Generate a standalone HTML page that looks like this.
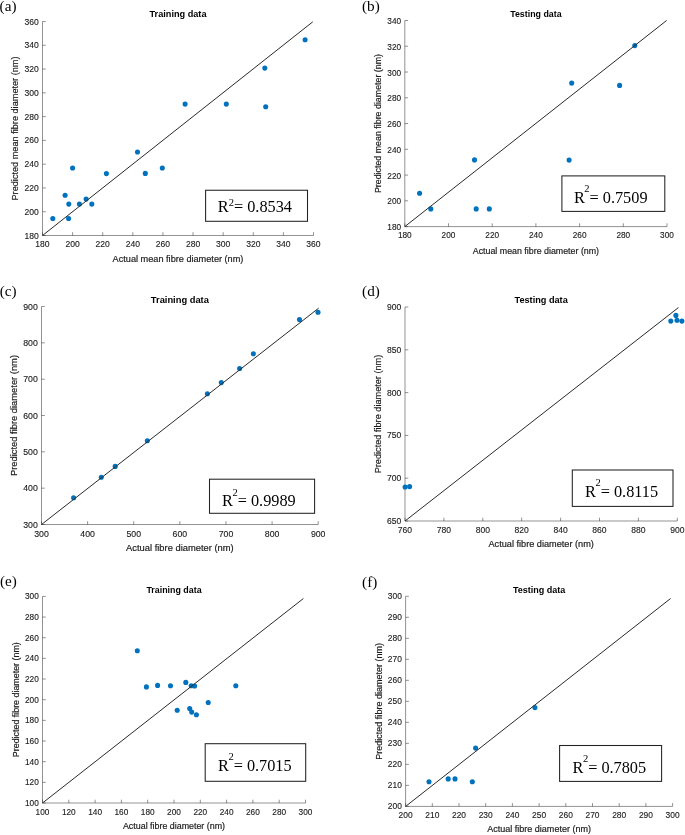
<!DOCTYPE html>
<html><head><meta charset="utf-8"><style>
html,body{margin:0;padding:0;background:#fff;}
svg{display:block;will-change:transform;}
text{font-family:"Liberation Sans",sans-serif;fill:#262626;}
.tk text{fill:#1a1a1a;stroke:#1a1a1a;stroke-width:0.12px;}
.lb{fill:#1a1a1a;stroke:#1a1a1a;stroke-width:0.18px;}
.ti{font-weight:bold;fill:#000;}
.pl{font-family:"Liberation Serif",serif;font-size:15.2px;fill:#000;}
.r2{font-family:"Liberation Serif",serif;font-size:16.3px;fill:#000;}
</style></head><body>
<svg width="685" height="835" viewBox="0 0 685 835">
<rect width="685" height="835" fill="#fff"/>
<g><path d="M42.5 21.5V235.5H313.5" fill="none" stroke="#262626" stroke-width="0.5"/>
<path d="M42.50 235.5v-3.3 M72.61 235.5v-3.3 M102.72 235.5v-3.3 M132.83 235.5v-3.3 M162.94 235.5v-3.3 M193.06 235.5v-3.3 M223.17 235.5v-3.3 M253.28 235.5v-3.3 M283.39 235.5v-3.3 M313.50 235.5v-3.3 M42.5 235.50h3.3 M42.5 211.72h3.3 M42.5 187.94h3.3 M42.5 164.17h3.3 M42.5 140.39h3.3 M42.5 116.61h3.3 M42.5 92.83h3.3 M42.5 69.06h3.3 M42.5 45.28h3.3 M42.5 21.50h3.3" fill="none" stroke="#262626" stroke-width="0.5"/>
<g class="tk" style="font-size:8.55px"><text x="42.50" y="247.0" text-anchor="middle">180</text><text x="72.61" y="247.0" text-anchor="middle">200</text><text x="102.72" y="247.0" text-anchor="middle">220</text><text x="132.83" y="247.0" text-anchor="middle">240</text><text x="162.94" y="247.0" text-anchor="middle">260</text><text x="193.06" y="247.0" text-anchor="middle">280</text><text x="223.17" y="247.0" text-anchor="middle">300</text><text x="253.28" y="247.0" text-anchor="middle">320</text><text x="283.39" y="247.0" text-anchor="middle">340</text><text x="313.50" y="247.0" text-anchor="middle">360</text><text x="38.80" y="238.55" text-anchor="end">180</text><text x="38.80" y="214.77" text-anchor="end">200</text><text x="38.80" y="190.99" text-anchor="end">220</text><text x="38.80" y="167.22" text-anchor="end">240</text><text x="38.80" y="143.44" text-anchor="end">260</text><text x="38.80" y="119.66" text-anchor="end">280</text><text x="38.80" y="95.88" text-anchor="end">300</text><text x="38.80" y="72.11" text-anchor="end">320</text><text x="38.80" y="48.33" text-anchor="end">340</text><text x="38.80" y="24.55" text-anchor="end">360</text></g>
<g fill="#0072bd"><circle cx="52.8" cy="218.5" r="2.55"/><circle cx="65.1" cy="195.2" r="2.55"/><circle cx="68.6" cy="218.5" r="2.55"/><circle cx="68.8" cy="204.1" r="2.55"/><circle cx="72.6" cy="168" r="2.55"/><circle cx="79.4" cy="204.1" r="2.55"/><circle cx="86.1" cy="199.1" r="2.55"/><circle cx="91.8" cy="204.1" r="2.55"/><circle cx="106.4" cy="173.6" r="2.55"/><circle cx="137.5" cy="152" r="2.55"/><circle cx="145.3" cy="173.4" r="2.55"/><circle cx="162.3" cy="168" r="2.55"/><circle cx="185.1" cy="104.1" r="2.55"/><circle cx="226.3" cy="104.1" r="2.55"/><circle cx="264.8" cy="68.1" r="2.55"/><circle cx="265.7" cy="106.7" r="2.55"/><circle cx="305.1" cy="39.8" r="2.55"/></g>
<path d="M42.5 235.5L312.8 21.8" stroke="#2a2a2a" stroke-width="1.0" fill="none"/>
<text class="ti" style="font-size:9.16px" x="178.00" y="17.4" text-anchor="middle">Training data</text>
<text class="lb" style="font-size:9.17px" x="178.00" y="261.8" text-anchor="middle">Actual mean fibre diameter (nm)</text>
<text class="lb" style="font-size:9.17px" transform="translate(17.8 128.50) rotate(-90)" text-anchor="middle">Predicted mean fibre diameter (nm)</text>
<text class="pl" x="-0.4" y="10.7">(a)</text>
<rect x="205.6" y="190.25" width="101.90" height="31.05" fill="#fff" stroke="#222" stroke-width="1.05"/>
<text class="r2" x="217.79999999999998" y="211.8">R<tspan font-size="10.5" dx="0" dy="-6.2">2</tspan><tspan dy="6.2">= 0.8534</tspan></text></g>
<g><path d="M404.8 20.5V226.6H667.0" fill="none" stroke="#262626" stroke-width="0.5"/>
<path d="M404.80 226.6v-3.3 M448.50 226.6v-3.3 M492.20 226.6v-3.3 M535.90 226.6v-3.3 M579.60 226.6v-3.3 M623.30 226.6v-3.3 M667.00 226.6v-3.3 M404.8 226.60h3.3 M404.8 200.84h3.3 M404.8 175.07h3.3 M404.8 149.31h3.3 M404.8 123.55h3.3 M404.8 97.79h3.3 M404.8 72.03h3.3 M404.8 46.26h3.3 M404.8 20.50h3.3" fill="none" stroke="#262626" stroke-width="0.5"/>
<g class="tk" style="font-size:8.25px"><text x="404.80" y="238.3" text-anchor="middle">180</text><text x="448.50" y="238.3" text-anchor="middle">200</text><text x="492.20" y="238.3" text-anchor="middle">220</text><text x="535.90" y="238.3" text-anchor="middle">240</text><text x="579.60" y="238.3" text-anchor="middle">260</text><text x="623.30" y="238.3" text-anchor="middle">280</text><text x="667.00" y="238.3" text-anchor="middle">300</text><text x="401.10" y="230.20" text-anchor="end">180</text><text x="401.10" y="204.44" text-anchor="end">200</text><text x="401.10" y="178.67" text-anchor="end">220</text><text x="401.10" y="152.91" text-anchor="end">240</text><text x="401.10" y="127.15" text-anchor="end">260</text><text x="401.10" y="101.39" text-anchor="end">280</text><text x="401.10" y="75.62" text-anchor="end">300</text><text x="401.10" y="49.86" text-anchor="end">320</text><text x="401.10" y="24.10" text-anchor="end">340</text></g>
<g fill="#0072bd"><circle cx="419.6" cy="193.3" r="2.55"/><circle cx="430.8" cy="208.9" r="2.55"/><circle cx="474.5" cy="159.9" r="2.55"/><circle cx="476.2" cy="208.9" r="2.55"/><circle cx="489.3" cy="208.9" r="2.55"/><circle cx="571.7" cy="83.1" r="2.55"/><circle cx="619.6" cy="85.4" r="2.55"/><circle cx="569.1" cy="160.1" r="2.55"/><circle cx="634.8" cy="45.6" r="2.55"/></g>
<path d="M404.8 226.6L666.6 20.5" stroke="#2a2a2a" stroke-width="1.0" fill="none"/>
<text class="ti" style="font-size:8.84px" x="535.90" y="16.7" text-anchor="middle">Testing data</text>
<text class="lb" style="font-size:8.85px" x="535.90" y="253.5" text-anchor="middle">Actual mean fibre diameter (nm)</text>
<text class="lb" style="font-size:8.85px" transform="translate(381.3 123.55) rotate(-90)" text-anchor="middle">Predicted mean fibre diameter (nm)</text>
<text class="pl" x="362.0" y="10.9">(b)</text>
<rect x="561.9" y="175.9" width="102.90" height="35.50" fill="#fff" stroke="#222" stroke-width="1.05"/>
<text class="r2" x="573.9000000000001" y="203.1">R<tspan font-size="10.5" dx="-0.5" dy="-10.8">2</tspan><tspan dy="10.8">= 0.7509</tspan></text></g>
<g><path d="M41.5 306.5V524.5H318.2" fill="none" stroke="#262626" stroke-width="0.5"/>
<path d="M41.50 524.5v-3.3 M87.62 524.5v-3.3 M133.73 524.5v-3.3 M179.85 524.5v-3.3 M225.97 524.5v-3.3 M272.08 524.5v-3.3 M318.20 524.5v-3.3 M41.5 524.50h3.3 M41.5 488.17h3.3 M41.5 451.83h3.3 M41.5 415.50h3.3 M41.5 379.17h3.3 M41.5 342.83h3.3 M41.5 306.50h3.3" fill="none" stroke="#262626" stroke-width="0.5"/>
<g class="tk" style="font-size:8.72px"><text x="41.50" y="536.8" text-anchor="middle">300</text><text x="87.62" y="536.8" text-anchor="middle">400</text><text x="133.73" y="536.8" text-anchor="middle">500</text><text x="179.85" y="536.8" text-anchor="middle">600</text><text x="225.97" y="536.8" text-anchor="middle">700</text><text x="272.08" y="536.8" text-anchor="middle">800</text><text x="318.20" y="536.8" text-anchor="middle">900</text><text x="37.80" y="527.61" text-anchor="end">300</text><text x="37.80" y="491.28" text-anchor="end">400</text><text x="37.80" y="454.94" text-anchor="end">500</text><text x="37.80" y="418.61" text-anchor="end">600</text><text x="37.80" y="382.28" text-anchor="end">700</text><text x="37.80" y="345.94" text-anchor="end">800</text><text x="37.80" y="309.61" text-anchor="end">900</text></g>
<g fill="#0072bd"><circle cx="73.6" cy="497.8" r="2.55"/><circle cx="101.3" cy="477.2" r="2.55"/><circle cx="115.2" cy="466.4" r="2.55"/><circle cx="147.3" cy="440.7" r="2.55"/><circle cx="207.4" cy="393.8" r="2.55"/><circle cx="221.3" cy="382.6" r="2.55"/><circle cx="239.6" cy="368.5" r="2.55"/><circle cx="253.4" cy="353.8" r="2.55"/><circle cx="299.5" cy="319.6" r="2.55"/><circle cx="318.0" cy="312.3" r="2.55"/></g>
<path d="M41.5 524.5L318.6 308.2" stroke="#2a2a2a" stroke-width="1.0" fill="none"/>
<text class="ti" style="font-size:9.34px" x="179.85" y="302.8" text-anchor="middle">Training data</text>
<text class="lb" style="font-size:9.35px" x="179.85" y="551.2" text-anchor="middle">Actual fibre diameter (nm)</text>
<text class="lb" style="font-size:9.35px" transform="translate(16.6 415.50) rotate(-90)" text-anchor="middle">Predicted fibre diameter (nm)</text>
<text class="pl" x="-0.2" y="295.9">(c)</text>
<rect x="209.5" y="479.2" width="105.10" height="34.10" fill="#fff" stroke="#222" stroke-width="1.05"/>
<text class="r2" x="222.1" y="506.3">R<tspan font-size="10.5" dx="-0.5" dy="-10.8">2</tspan><tspan dy="10.8">= 0.9989</tspan></text></g>
<g><path d="M405.0 307.0V521.0H677.3" fill="none" stroke="#262626" stroke-width="0.5"/>
<path d="M405.00 521.0v-3.3 M443.90 521.0v-3.3 M482.80 521.0v-3.3 M521.70 521.0v-3.3 M560.60 521.0v-3.3 M599.50 521.0v-3.3 M638.40 521.0v-3.3 M677.30 521.0v-3.3 M405.0 521.00h3.3 M405.0 478.20h3.3 M405.0 435.40h3.3 M405.0 392.60h3.3 M405.0 349.80h3.3 M405.0 307.00h3.3" fill="none" stroke="#262626" stroke-width="0.5"/>
<g class="tk" style="font-size:8.55px"><text x="405.00" y="532.9" text-anchor="middle">760</text><text x="443.90" y="532.9" text-anchor="middle">780</text><text x="482.80" y="532.9" text-anchor="middle">800</text><text x="521.70" y="532.9" text-anchor="middle">820</text><text x="560.60" y="532.9" text-anchor="middle">840</text><text x="599.50" y="532.9" text-anchor="middle">860</text><text x="638.40" y="532.9" text-anchor="middle">880</text><text x="677.30" y="532.9" text-anchor="middle">900</text><text x="401.30" y="524.05" text-anchor="end">650</text><text x="401.30" y="481.25" text-anchor="end">700</text><text x="401.30" y="438.45" text-anchor="end">750</text><text x="401.30" y="395.65" text-anchor="end">800</text><text x="401.30" y="352.85" text-anchor="end">850</text><text x="401.30" y="310.05" text-anchor="end">900</text></g>
<g fill="#0072bd"><circle cx="405.1" cy="487.0" r="2.55"/><circle cx="409.6" cy="486.6" r="2.55"/><circle cx="670.8" cy="321.1" r="2.55"/><circle cx="675.9" cy="315.4" r="2.55"/><circle cx="677.0" cy="320.3" r="2.55"/><circle cx="681.9" cy="321.1" r="2.55"/></g>
<path d="M405.0 521.0L678.4 307.6" stroke="#2a2a2a" stroke-width="1.0" fill="none"/>
<text class="ti" style="font-size:9.16px" x="541.15" y="303.1" text-anchor="middle">Testing data</text>
<text class="lb" style="font-size:9.17px" x="541.15" y="547.3" text-anchor="middle">Actual fibre diameter (nm)</text>
<text class="lb" style="font-size:9.17px" transform="translate(380.9 414.00) rotate(-90)" text-anchor="middle">Predicted fibre diameter (nm)</text>
<text class="pl" x="362.1" y="296.2">(d)</text>
<rect x="572.3" y="470.0" width="100.70" height="36.40" fill="#fff" stroke="#222" stroke-width="1.05"/>
<text class="r2" x="585.1" y="496.9">R<tspan font-size="10.5" dx="-0.5" dy="-10.8">2</tspan><tspan dy="10.8">= 0.8115</tspan></text></g>
<g><path d="M42.5 596.4V803.0H305.5" fill="none" stroke="#262626" stroke-width="0.5"/>
<path d="M42.50 803.0v-3.3 M68.80 803.0v-3.3 M95.10 803.0v-3.3 M121.40 803.0v-3.3 M147.70 803.0v-3.3 M174.00 803.0v-3.3 M200.30 803.0v-3.3 M226.60 803.0v-3.3 M252.90 803.0v-3.3 M279.20 803.0v-3.3 M305.50 803.0v-3.3 M42.5 803.00h3.3 M42.5 782.34h3.3 M42.5 761.68h3.3 M42.5 741.02h3.3 M42.5 720.36h3.3 M42.5 699.70h3.3 M42.5 679.04h3.3 M42.5 658.38h3.3 M42.5 637.72h3.3 M42.5 617.06h3.3 M42.5 596.40h3.3" fill="none" stroke="#262626" stroke-width="0.5"/>
<g class="tk" style="font-size:8.28px"><text x="42.50" y="814.6" text-anchor="middle">100</text><text x="68.80" y="814.6" text-anchor="middle">120</text><text x="95.10" y="814.6" text-anchor="middle">140</text><text x="121.40" y="814.6" text-anchor="middle">160</text><text x="147.70" y="814.6" text-anchor="middle">180</text><text x="174.00" y="814.6" text-anchor="middle">200</text><text x="200.30" y="814.6" text-anchor="middle">220</text><text x="226.60" y="814.6" text-anchor="middle">240</text><text x="252.90" y="814.6" text-anchor="middle">260</text><text x="279.20" y="814.6" text-anchor="middle">280</text><text x="305.50" y="814.6" text-anchor="middle">300</text><text x="38.80" y="805.95" text-anchor="end">100</text><text x="38.80" y="785.29" text-anchor="end">120</text><text x="38.80" y="764.63" text-anchor="end">140</text><text x="38.80" y="743.97" text-anchor="end">160</text><text x="38.80" y="723.31" text-anchor="end">180</text><text x="38.80" y="702.65" text-anchor="end">200</text><text x="38.80" y="681.99" text-anchor="end">220</text><text x="38.80" y="661.33" text-anchor="end">240</text><text x="38.80" y="640.67" text-anchor="end">260</text><text x="38.80" y="620.01" text-anchor="end">280</text><text x="38.80" y="599.35" text-anchor="end">300</text></g>
<g fill="#0072bd"><circle cx="137.3" cy="650.8" r="2.55"/><circle cx="146.4" cy="686.9" r="2.55"/><circle cx="157.6" cy="685.4" r="2.55"/><circle cx="170.5" cy="685.8" r="2.55"/><circle cx="185.8" cy="682.4" r="2.55"/><circle cx="191.2" cy="685.8" r="2.55"/><circle cx="194.6" cy="686.0" r="2.55"/><circle cx="235.8" cy="685.7" r="2.55"/><circle cx="208.2" cy="702.5" r="2.55"/><circle cx="177.2" cy="710.3" r="2.55"/><circle cx="189.7" cy="708.5" r="2.55"/><circle cx="191.7" cy="712.1" r="2.55"/><circle cx="196.4" cy="714.8" r="2.55"/></g>
<path d="M42.5 803.0L303.4 598.5" stroke="#2a2a2a" stroke-width="1.0" fill="none"/>
<text class="ti" style="font-size:8.87px" x="174.00" y="592.5" text-anchor="middle">Training data</text>
<text class="lb" style="font-size:8.88px" x="174.00" y="828.5" text-anchor="middle">Actual fibre diameter (nm)</text>
<text class="lb" style="font-size:8.88px" transform="translate(19.0 699.70) rotate(-90)" text-anchor="middle">Predicted fibre diameter (nm)</text>
<text class="pl" x="0.0" y="586.4">(e)</text>
<rect x="205.2" y="743.7" width="100.50" height="37.60" fill="#fff" stroke="#222" stroke-width="1.05"/>
<text class="r2" x="218.0" y="770.9">R<tspan font-size="10.5" dx="-0.5" dy="-10.8">2</tspan><tspan dy="10.8">= 0.7015</tspan></text></g>
<g><path d="M405.6 596.3V806.4H672.6" fill="none" stroke="#262626" stroke-width="0.5"/>
<path d="M405.60 806.4v-3.3 M432.30 806.4v-3.3 M459.00 806.4v-3.3 M485.70 806.4v-3.3 M512.40 806.4v-3.3 M539.10 806.4v-3.3 M565.80 806.4v-3.3 M592.50 806.4v-3.3 M619.20 806.4v-3.3 M645.90 806.4v-3.3 M672.60 806.4v-3.3 M405.6 806.40h3.3 M405.6 785.39h3.3 M405.6 764.38h3.3 M405.6 743.37h3.3 M405.6 722.36h3.3 M405.6 701.35h3.3 M405.6 680.34h3.3 M405.6 659.33h3.3 M405.6 638.32h3.3 M405.6 617.31h3.3 M405.6 596.30h3.3" fill="none" stroke="#262626" stroke-width="0.5"/>
<g class="tk" style="font-size:8.41px"><text x="405.60" y="818.4" text-anchor="middle">200</text><text x="432.30" y="818.4" text-anchor="middle">210</text><text x="459.00" y="818.4" text-anchor="middle">220</text><text x="485.70" y="818.4" text-anchor="middle">230</text><text x="512.40" y="818.4" text-anchor="middle">240</text><text x="539.10" y="818.4" text-anchor="middle">250</text><text x="565.80" y="818.4" text-anchor="middle">260</text><text x="592.50" y="818.4" text-anchor="middle">270</text><text x="619.20" y="818.4" text-anchor="middle">280</text><text x="645.90" y="818.4" text-anchor="middle">290</text><text x="672.60" y="818.4" text-anchor="middle">300</text><text x="401.90" y="809.40" text-anchor="end">200</text><text x="401.90" y="788.39" text-anchor="end">210</text><text x="401.90" y="767.38" text-anchor="end">220</text><text x="401.90" y="746.37" text-anchor="end">230</text><text x="401.90" y="725.36" text-anchor="end">240</text><text x="401.90" y="704.35" text-anchor="end">250</text><text x="401.90" y="683.34" text-anchor="end">260</text><text x="401.90" y="662.33" text-anchor="end">270</text><text x="401.90" y="641.32" text-anchor="end">280</text><text x="401.90" y="620.31" text-anchor="end">290</text><text x="401.90" y="599.30" text-anchor="end">300</text></g>
<g fill="#0072bd"><circle cx="429.0" cy="781.8" r="2.55"/><circle cx="448.2" cy="778.9" r="2.55"/><circle cx="455.0" cy="778.9" r="2.55"/><circle cx="472.3" cy="781.8" r="2.55"/><circle cx="475.6" cy="748.1" r="2.55"/><circle cx="534.9" cy="707.6" r="2.55"/></g>
<path d="M405.6 806.4L670.6 598.5" stroke="#2a2a2a" stroke-width="1.0" fill="none"/>
<text class="ti" style="font-size:9.01px" x="539.10" y="592.9" text-anchor="middle">Testing data</text>
<text class="lb" style="font-size:9.02px" x="539.10" y="832.3" text-anchor="middle">Actual fibre diameter (nm)</text>
<text class="lb" style="font-size:9.02px" transform="translate(381.6 701.35) rotate(-90)" text-anchor="middle">Predicted fibre diameter (nm)</text>
<text class="pl" x="362.1" y="586.6">(f)</text>
<rect x="559.6" y="745.5" width="102.00" height="35.90" fill="#fff" stroke="#222" stroke-width="1.05"/>
<text class="r2" x="572.5" y="772.6">R<tspan font-size="10.5" dx="-0.5" dy="-10.8">2</tspan><tspan dy="10.8">= 0.7805</tspan></text></g>
</svg>
</body></html>
